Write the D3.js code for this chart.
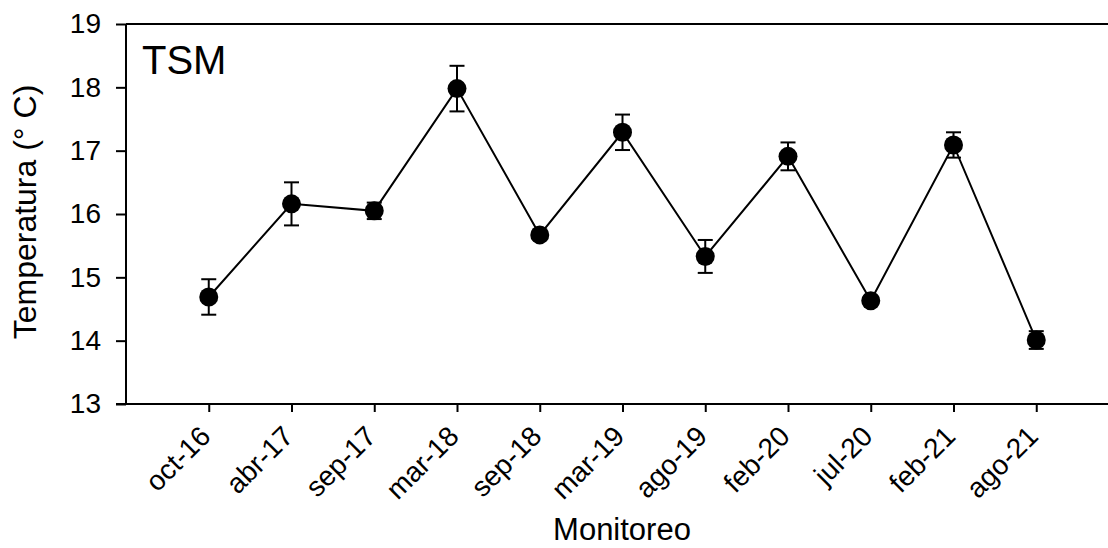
<!DOCTYPE html>
<html>
<head>
<meta charset="utf-8">
<script src="https://cdn.jsdelivr.net/npm/d3@7"></script>
<style>
  body { margin: 0; background: #fff; }
  svg { display: block; font-family: Arial, "Liberation Sans", sans-serif; }
  .axis path, .axis line { stroke: #000; stroke-width: 2; }
  .axis text { fill: #000; }
</style>
</head>
<body>
<svg id="chart" width="1108" height="548"></svg>
<script>
// Sampling dates (monitoreo)
var categories = ['oct-16', 'abr-17', 'sep-17', 'mar-18', 'sep-18', 'mar-19',
  'ago-19', 'feb-20', 'jul-20', 'feb-21', 'ago-21'];
// Mean sea surface temperature (°C)
var meanValues = [14.69, 16.16, 16.05, 17.98, 15.67, 17.29, 15.33, 16.91, 14.63, 17.09, 14.01];
// Error bar half-width (°C)
var errValues = [0.28, 0.34, 0.13, 0.36, 0.07, 0.28, 0.26, 0.22, 0.07, 0.2, 0.14];
var yTicks = [13, 14, 15, 16, 17, 18, 19];

var data = categories.map(function(c, i) {
  return { key: c, value: meanValues[i], err: errValues[i] };
});

var svg = d3.select('#chart');
var margin = { top: 24, left: 126, bottom: 404, right: 1119 };

/*
 * Scales
 */
var x = d3.scalePoint()
  .domain(categories)
  .range([margin.left, margin.right])
  .padding(1);
var y = d3.scaleLinear()
  .domain([13, 19])
  .range([margin.bottom, margin.top]);

// Top frame line
svg.append('line')
  .attr('x1', margin.left)
  .attr('x2', 1108)
  .attr('y1', margin.top)
  .attr('y2', margin.top)
  .attr('stroke', '#000')
  .attr('stroke-width', 2);

// Y axis
svg.append('g')
  .attr('class', 'axis axis--y')
  .attr('transform', 'translate(' + margin.left + ', 0)')
  .call(d3.axisLeft(y).tickValues(yTicks).tickFormat(d3.format('d'))
    .tickSize(10).tickPadding(15).tickSizeOuter(0))
  .selectAll('text')
  .attr('font-size', 28);

// X axis
var xAxis = svg.append('g')
  .attr('class', 'axis axis--x')
  .attr('transform', 'translate(0, ' + margin.bottom + ')')
  .call(d3.axisBottom(x).tickSize(8).tickSizeOuter(0));

// stretch the domain lines to the corner ticks and right edge
xAxis.select('.domain')
  .attr('d', 'M' + (margin.left - 10) + ',0H1108');
svg.select('.axis--y .domain')
  .attr('d', 'M0,' + margin.top + 'V' + margin.bottom);

xAxis.selectAll('text')
  .attr('font-size', 28)
  .attr('text-anchor', 'end')
  .attr('dy', 0)
  .attr('y', 0)
  .attr('transform', 'translate(3, 34) rotate(-45)');

/*
 * Line and markers
 */
var line = d3.line()
  .x(function(d) { return x(d.key); })
  .y(function(d) { return y(d.value); });

svg.append('path')
  .datum(data)
  .attr('d', line)
  .attr('fill', 'none')
  .attr('stroke', '#000')
  .attr('stroke-width', 2);

var err = svg.selectAll('.err')
  .data(data)
  .enter().append('g')
  .attr('class', 'err')
  .attr('stroke', '#000')
  .attr('stroke-width', 2);

err.append('line')
  .attr('x1', function(d) { return x(d.key); })
  .attr('x2', function(d) { return x(d.key); })
  .attr('y1', function(d) { return y(d.value + d.err); })
  .attr('y2', function(d) { return y(d.value - d.err); });

err.append('line')
  .attr('x1', function(d) { return x(d.key) - 7.5; })
  .attr('x2', function(d) { return x(d.key) + 7.5; })
  .attr('y1', function(d) { return y(d.value + d.err); })
  .attr('y2', function(d) { return y(d.value + d.err); });

err.append('line')
  .attr('x1', function(d) { return x(d.key) - 7.5; })
  .attr('x2', function(d) { return x(d.key) + 7.5; })
  .attr('y1', function(d) { return y(d.value - d.err); })
  .attr('y2', function(d) { return y(d.value - d.err); });

svg.selectAll('.dot')
  .data(data)
  .enter().append('circle')
  .attr('class', 'dot')
  .attr('cx', function(d) { return x(d.key); })
  .attr('cy', function(d) { return y(d.value); })
  .attr('r', 9.5)
  .attr('fill', '#000');

/*
 * Labels
 */
svg.append('text')
  .attr('x', 142)
  .attr('y', 74)
  .attr('font-size', 40)
  .text('TSM');

svg.append('text')
  .attr('transform', 'translate(36, 212) rotate(-90)')
  .attr('text-anchor', 'middle')
  .attr('font-size', 32)
  .text('Temperatura (° C)');

svg.append('text')
  .attr('x', 622)
  .attr('y', 540)
  .attr('text-anchor', 'middle')
  .attr('font-size', 31)
  .text('Monitoreo');
</script>
</body>
</html>
